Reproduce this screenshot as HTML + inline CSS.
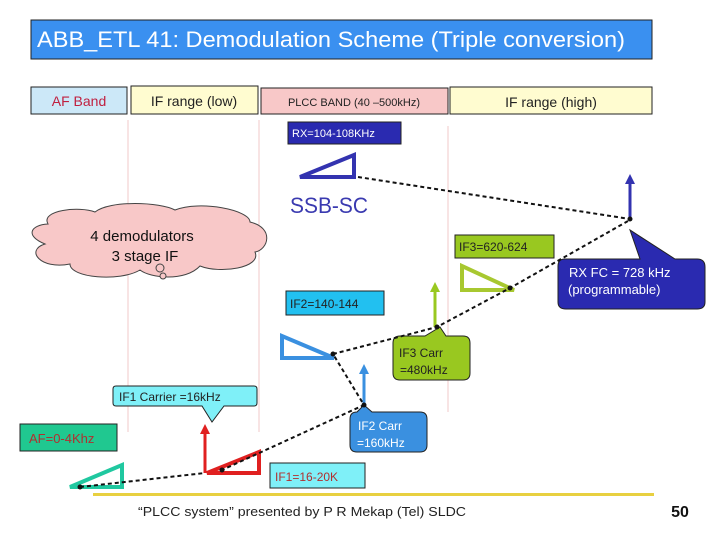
<!DOCTYPE html>
<html><head><meta charset="utf-8"><style>
body{margin:0;width:720px;height:540px;background:#fff;overflow:hidden;font-family:"Liberation Sans",sans-serif}
svg{display:block}
</style></head><body>
<svg width="720" height="540" viewBox="0 0 720 540" font-family="Liberation Sans, sans-serif">
<rect x="31" y="20" width="621" height="39" fill="#3a90f0" stroke="#222" stroke-width="1"/>
<text x="37" y="47" font-size="22" fill="#fff" textLength="588" lengthAdjust="spacingAndGlyphs">ABB_ETL 41: Demodulation Scheme (Triple conversion)</text>
<rect x="31" y="87" width="96" height="27" fill="#cce8f8" stroke="#222"/>
<text x="79" y="106" font-size="14" fill="#c02040" text-anchor="middle">AF Band</text>
<rect x="131" y="86" width="127" height="28" fill="#fffcd0" stroke="#222"/>
<text x="194" y="106" font-size="14" fill="#222" text-anchor="middle">IF range (low)</text>
<rect x="261" y="88" width="187" height="26" fill="#f8c8c8" stroke="#222"/>
<text x="354" y="106" font-size="11" fill="#222" text-anchor="middle">PLCC BAND (40 –500kHz)</text>
<rect x="450" y="87" width="202" height="27" fill="#fffcd0" stroke="#222"/>
<text x="551" y="107" font-size="14" fill="#222" text-anchor="middle">IF range (high)</text>
<g stroke="#f0c8c8" stroke-width="1">
<line x1="128" y1="120" x2="128" y2="432"/><line x1="259" y1="120" x2="259" y2="432"/><line x1="448" y1="126" x2="448" y2="412"/>
</g>
<rect x="288" y="122" width="113" height="22" fill="#2a2ab0" stroke="#222"/>
<text x="292" y="137" font-size="11" fill="#fff">RX=104-108KHz</text>
<polygon points="300,177 354,155 354,177" fill="none" stroke="#3333b0" stroke-width="4"/>
<text x="290" y="213" font-size="22" fill="#3a3ab0" textLength="78" lengthAdjust="spacingAndGlyphs">SSB-SC</text>
<path d="M48,224 C40,210 80,206 95,212 C110,200 160,202 175,210 C200,200 250,210 250,222 C275,228 268,250 255,252 C262,268 220,274 200,266 C185,282 150,278 140,270 C120,282 70,278 70,264 C40,270 25,250 45,244 C25,236 30,225 48,224 Z" fill="#f8c8c8" stroke="#444" stroke-width="1"/>
<circle cx="160" cy="268" r="4" fill="#f8c8c8" stroke="#444"/><circle cx="163" cy="276" r="3" fill="#f8c8c8" stroke="#444"/>
<text x="142" y="241" font-size="15" fill="#111" text-anchor="middle">4  demodulators</text>
<text x="145" y="261" font-size="15" fill="#111" text-anchor="middle">3 stage IF</text>
<line x1="630" y1="219" x2="630" y2="182" stroke="#3333b0" stroke-width="3"/>
<polygon points="625,184 635,184 630,174" fill="#3333b0"/>
<rect x="455" y="235" width="99" height="23" fill="#99c820" stroke="#222"/>
<text x="459" y="251" font-size="12" fill="#222">IF3=620-624</text>
<path d="M565,259 L640,259 L630,230 L675,259 L697,259 Q705,259 705,267 L705,302 Q705,309 697,309 L566,309 Q558,309 558,302 L558,266 Q558,259 565,259Z" fill="#2a2ab0" stroke="#222"/>
<text x="569" y="277" font-size="13" fill="#fff">RX FC = 728 kHz</text>
<text x="568" y="294" font-size="13" fill="#fff">(programmable)</text>
<polygon points="462,266 462,290 514,290" fill="none" stroke="#a8c830" stroke-width="4"/>
<line x1="435" y1="327" x2="435" y2="290" stroke="#99c820" stroke-width="3"/>
<polygon points="430,292 440,292 435,282" fill="#99c820"/>
<rect x="286" y="291" width="98" height="24" fill="#22c0f0" stroke="#222"/>
<text x="290" y="308" font-size="12" fill="#222">IF2=140-144</text>
<polygon points="282,336 282,358 334,358" fill="none" stroke="#3a90e0" stroke-width="4"/>
<path d="M400,336 L425,336 L440,327 L446,336 L463,336 Q470,336 470,343 L470,373 Q470,380 463,380 L400,380 Q393,380 393,373 L393,343 Q393,336 400,336Z" fill="#99c820" stroke="#222"/>
<text x="399" y="357" font-size="12" fill="#222">IF3 Carr</text>
<text x="400" y="374" font-size="12" fill="#222">=480kHz</text>
<line x1="364" y1="405" x2="364" y2="372" stroke="#3a90e0" stroke-width="3"/>
<polygon points="359,374 369,374 364,364" fill="#3a90e0"/>
<path d="M357,412 L364,405 L372,412 L420,412 Q427,412 427,419 L427,445 Q427,452 420,452 L357,452 Q350,452 350,445 L350,419 Q350,412 357,412Z" fill="#3a90e0" stroke="#222"/>
<text x="358" y="430" font-size="12" fill="#fff">IF2 Carr</text>
<text x="357" y="447" font-size="12" fill="#fff">=160kHz</text>
<path d="M116,386 L254,386 Q257,386 257,389 L257,403 Q257,406 254,406 L224,406 L212,422 L202,406 L116,406 Q113,406 113,403 L113,389 Q113,386 116,386Z" fill="#7ff0f8" stroke="#222"/>
<text x="119" y="401" font-size="12" fill="#222">IF1 Carrier =16kHz</text>
<line x1="205" y1="473" x2="205" y2="432" stroke="#e02020" stroke-width="3"/>
<polygon points="200,434 210,434 205,424" fill="#e02020"/>
<polygon points="207,473 259,452 259,473" fill="none" stroke="#e02020" stroke-width="4"/>
<rect x="20" y="424" width="97" height="27" fill="#20c890" stroke="#222"/>
<text x="29" y="443" font-size="13" fill="#b03030">AF=0-4Khz</text>
<polygon points="70,487 122,465 122,487" fill="none" stroke="#20c8a0" stroke-width="4"/>
<rect x="270" y="463" width="95" height="25" fill="#7ff0f8" stroke="#222"/>
<text x="275" y="481" font-size="12" fill="#b03030">IF1=16-20K</text>
<g stroke="#111" stroke-width="2" stroke-dasharray="4,3" fill="none">
<line x1="358" y1="177" x2="630" y2="219"/>
<polyline points="628,221 510,288 437,327 333,354 364,405 222,470"/>
<line x1="80" y1="487" x2="205" y2="473"/>
</g>
<g fill="#111"><circle cx="630" cy="219" r="2.5"/><circle cx="510" cy="288" r="2.5"/><circle cx="437" cy="327" r="2.5"/><circle cx="333" cy="354" r="2.5"/><circle cx="364" cy="405" r="2.5"/><circle cx="222" cy="470" r="2.5"/><circle cx="80" cy="487" r="2.5"/></g>
<rect x="93" y="493" width="561" height="3" fill="#e8d040"/>
<text x="138" y="516" font-size="13" fill="#222" textLength="328" lengthAdjust="spacingAndGlyphs">“PLCC system” presented by P R Mekap (Tel) SLDC</text>
<text x="680" y="517" font-size="16" fill="#111" text-anchor="middle" font-weight="bold">50</text>
</svg>
</body></html>
